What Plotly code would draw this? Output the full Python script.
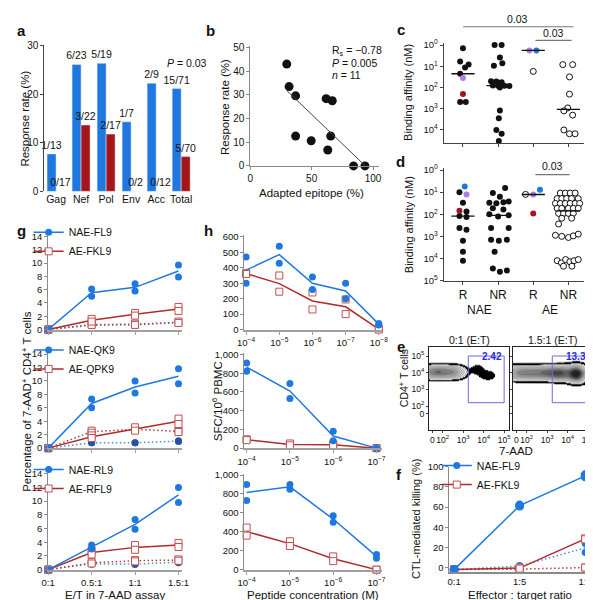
import numpy as np
import plotly.graph_objects as go

W, H = 593, 600
FONT = "Liberation Sans, Arial, sans-serif"
BLUE = "#1f78e0"
DBLUE = "#2850a8"
RED = "#a3171b"
LRED = "#b22a2a"
SQ = "#c05050"
PURPLE = "#b07ce8"
AXG = "#8a8a8a"
DOT = "1.5px,2.5px"

# ---------------- data ----------------
# a: response fractions
A_CATS = ["Gag", "Nef", "Pol", "Env", "Acc", "Total"]
A_NAE = ["1/13", "6/23", "5/19", "1/7", "2/9", "15/71"]
A_AE = ["0/17", "3/22", "2/17", "0/2", "0/12", "5/70"]

# b: adapted epitope vs response rate
B_ADAPTED = [29.7, 31.6, 36.9, 36.9, 49.6, 61.8, 66.8, 65.5, 63.1, 84.1, 93.4]
B_RESPONSE = [43.0, 33.5, 29.6, 12.6, 10.6, 28.4, 27.5, 12.6, 6.7, 0.0, 0.0]

# c / d: binding affinity (log10 nM), within-group jitter, kind (k black, p purple, r red, b blue, o open)
C_LOG = [
    [0.15, 0.77, 0.92, 1.05, 1.35, 1.55, 2.3, 2.68, 2.68],
    [0, 0, 0.58, 0.85, 0.97, 1.7, 1.72, 1.75, 1.9, 1.92, 1.92, 1.93, 2.0, 3.08, 3.45, 4.0, 4.18, 4.52],
    [0.25, 0.25, 1.24],
    [0.92, 0.92, 1.5, 2.31, 2.96, 3.1, 3.3, 4.0, 4.18, 4.18],
]
C_OFF = [
    [0, -0.08, 0.16, 0.06, -0.08, 0, 0, -0.08, 0.08],
    [-0.1, 0.1, 0.05, 0.12, -0.12, -0.2, -0.05, 0.1, -0.15, 0.0, 0.18, 0.32, 0.05, 0.05, 0.02, -0.05, 0.1, 0.02],
    [-0.11, 0.09, 0.0],
    [-0.16, 0.12, 0.03, 0.03, -0.02, -0.13, 0.12, -0.13, 0.03, 0.19],
]
C_KIND = ["kkkkkprkk", "k" * 18, "pbo", "o" * 10]

D_LOG = [
    [0.74, 1.0, 1.1, 1.48, 1.84, 1.88, 2.08, 2.12, 2.62, 2.7, 3.2, 3.7, 4.1],
    [0.81, 1.04, 1.21, 1.42, 1.46, 1.48, 1.5, 1.73, 1.78, 2.0, 2.05, 2.1, 2.62, 2.62, 3.15, 3.15, 3.2, 3.7, 4.45, 4.55, 4.6],
    [1.1, 1.11, 0.89, 1.96],
    [1.04, 1.04, 1.04, 1.04, 1.29, 1.29, 1.29, 1.29, 1.29, 1.51, 1.51, 1.51, 1.51, 1.51, 1.51,
     1.73, 1.73, 1.73, 1.73, 1.73, 1.96, 1.96, 1.96, 1.96, 2.18, 2.18, 2.44,
     2.95, 3.0, 3.05, 2.98, 2.9, 4.1, 4.2, 4.05, 4.15, 4.1, 4.05, 4.35, 4.35],
]
D_OFF = [
    [0.05, -0.1, 0.1, 0.0, -0.1, 0.1, -0.1, 0.1, -0.1, 0.1, 0.0, 0.0, 0.0],
    [0.2, -0.15, 0.05, 0.3, 0.15, -0.25, -0.05, -0.15, 0.15, -0.25, 0.3, 0.0, -0.2, 0.3, -0.2, 0.25, 0.02, -0.1, -0.15, 0.25, 0.05],
    [-0.22, 0.0, 0.19, 0.0],
    [-0.23, -0.09, 0.05, 0.19, -0.32, -0.19, -0.05, 0.09, 0.28, -0.37, -0.23, -0.09, 0.05, 0.19, 0.32,
     -0.32, -0.19, 0.0, 0.14, 0.28, -0.28, -0.14, 0.0, 0.14, -0.19, 0.09, -0.28,
     -0.37, -0.19, 0.0, 0.14, 0.28, -0.32, -0.2, -0.08, 0.04, 0.16, 0.28, -0.14, 0.1],
]
D_KIND = ["bkpkrkkkkkkkk", "k" * 21, "opbr", "o" * 40]
D_TICKS = ["R", "NR", "R", "NR"]

# e: flow density blobs (cx, cy, sx, sy, weight) in biexponential decades
E_LEFT_BLOBS = [
    (1.3, 4.05, 0.35, 0.25, 0.45), (1.8, 4.05, 0.35, 0.25, 0.45),
    (2.3, 4.05, 0.35, 0.25, 0.42), (2.75, 4.05, 0.3, 0.24, 0.35),
    (3.7, 4.22, 0.22, 0.22, 0.12), (4.2, 3.85, 0.3, 0.22, 0.12),
]
E_RIGHT_BLOBS = [
    (1.3, 4.0, 0.35, 0.27, 0.45), (1.9, 4.0, 0.35, 0.27, 0.5),
    (2.5, 4.0, 0.35, 0.27, 0.5), (3.1, 4.0, 0.35, 0.27, 0.55),
    (3.7, 3.98, 0.35, 0.28, 0.7), (4.45, 3.95, 0.3, 0.32, 1.0),
]
E_GATE = [3.25, 5.0, 2.2, 5.0]
E_PCT = ["2.42", "13.3"]
E_TITLES = ["0:1 (E:T)", "1.5:1 (E:T)"]

# f: CTL-mediated killing
F_RATIOS = ["0:1", "1:5", "1:1"]
F_NAE = [[-2, -2], [62, 61], [92, 90]]
F_NAE_CTRL = [[-2, -2], [2, 1], [24, 15]]
F_AE = [[-2, -2], [0, -1], [29, 28]]
F_AE_CTRL = [[-2, -2], [-1, -2], [0, 0]]

# g: 7-AAD assay
G_ET = [0, 0.5, 1.0, 1.5]
G_ET_LABELS = ["0:1", "0.5:1", "1:1", "1.5:1"]
G_NAMES = [("NAE-FL9", "AE-FKL9"), ("NAE-QK9", "AE-QPK9"), ("NAE-RL9", "AE-RFL9")]
G_NAE = [
    [[0, 0], [6.1, 5.0], [6.9, 5.8], [9.7, 7.9]],
    [[0, 0], [7.3, 6.0], [10.0, 8.2], [11.8, 9.6]],
    [[0, 0], [3.6, 3.0], [7.3, 5.9], [12.0, 9.8]],
]
G_AE = [
    [[0, 0], [1.6, 1.2], [2.5, 2.1], [3.4, 2.8]],
    [[0, 0], [1.9, 1.5], [3.1, 2.6], [4.4, 3.6]],
    [[0, 0], [2.8, 2.2], [3.6, 2.9], [3.9, 3.3]],
]
G_NAE_CTRL = [
    [[0, 0], [0.7, 0.6], [0.8, 0.6], [1.1, 1.0]],
    [[0, 0], [0.8, 0.8], [0.8, 0.8], [1.1, 1.0]],
    [[0, 0], [0.9, 0.8], [0.8, 0.8], [1.2, 1.0]],
]
G_AE_CTRL = [
    [[0, 0], [0.8, 0.7], [0.9, 0.7], [1.2, 1.0]],
    [[0, 0], [2.6, 2.3], [2.9, 2.7], [2.6, 2.4]],
    [[0, 0], [1.1, 0.9], [1.4, 1.2], [1.5, 1.3]],
]

# h: ELISpot titrations
H_CONC = [["10<sup>−4</sup>", "10<sup>−5</sup>", "10<sup>−6</sup>", "10<sup>−7</sup>", "10<sup>−8</sup>"],
          ["10<sup>−4</sup>", "10<sup>−5</sup>", "10<sup>−6</sup>", "10<sup>−7</sup>"],
          ["10<sup>−4</sup>", "10<sup>−5</sup>", "10<sup>−6</sup>", "10<sup>−7</sup>"]]
H_NAE = [
    [[470, 300], [540, 430], [340, 260], [300, 200], [40, 30]],
    [[910, 820], [690, 530], [180, 80], [0, 0]],
    [[900, 730], [900, 850], [570, 500], [160, 120]],
]
H_AE = [
    [[365, 360], [350, 245], [240, 130], [195, 100], [5, 0]],
    [[95, 85], [50, 30], [40, 30], [0, 0]],
    [[445, 360], [300, 250], [140, 90], [0, 0]],
]
H_YMAX = [600, 1000, 1000]
H_YSTEP = [100, 200, 200]

# ---------------- helpers ----------------
fig = go.Figure()
layout = {}


def px_x(a, b):
    return [a / W, b / W]


def px_y(top, bot):
    return [1 - bot / H, 1 - top / H]


def add_axes(n, xd, yd, xkw, ykw):
    sx = "" if n == 1 else str(n)
    base = dict(showgrid=False, zeroline=False, showline=True, ticks="outside", ticklen=3,
                linecolor="#444", tickcolor="#444", tickangle=0,
                tickfont=dict(size=10, family=FONT, color="#111"))
    xk = dict(base)
    xk.update(domain=px_x(*xd), anchor="y" + sx)
    xk.update(xkw)
    yk = dict(base)
    yk.update(domain=px_y(*yd), anchor="x" + sx)
    yk.update(ykw)
    layout["xaxis" + sx] = xk
    layout["yaxis" + sx] = yk
    return "x" + sx, "y" + sx


annotations = []
shapes = []


def text(x, y, s, size=11.5, angle=0, xanchor="center", yanchor="middle", color="#111", bold=False):
    if bold:
        s = "<b>" + s + "</b>"
    annotations.append(dict(x=x / W, y=1 - y / H, xref="paper", yref="paper", text=s, showarrow=False,
                            textangle=angle, xanchor=xanchor, yanchor=yanchor,
                            font=dict(size=size, family=FONT, color=color)))


def sup(p):
    return "10<sup>%d</sup>" % p


TF = dict(size=9.5, family=FONT, color="#111")

# ---------------- panel a ----------------
xa, ya = add_axes(1, (30, 183), (32, 181),
                  dict(range=[-0.47, 5.5], tickvals=list(range(6)), ticktext=A_CATS, showline=False,
                       ticks="", tickfont=dict(size=10.5, family=FONT, color="#111")),
                  dict(range=[0, 30], tickvals=[0, 10, 20, 30]))
vals_nae = [int(s.split("/")[0]) / int(s.split("/")[1]) * 100 for s in A_NAE]
vals_ae = [int(s.split("/")[0]) / int(s.split("/")[1]) * 100 for s in A_AE]
fig.add_trace(go.Bar(x=list(range(6)), y=vals_nae, width=0.36, offset=-0.36, marker_color=BLUE,
                     text=A_NAE, textposition="outside", constraintext="none", cliponaxis=False,
                     textfont=dict(size=10.5, family=FONT, color="#111"), showlegend=False,
                     xaxis=xa, yaxis=ya))
fig.add_trace(go.Bar(x=list(range(6)), y=vals_ae, width=0.36, offset=0.0, marker_color=RED,
                     text=A_AE, textposition="outside", constraintext="none", cliponaxis=False,
                     textfont=dict(size=10.5, family=FONT, color="#111"), showlegend=False,
                     xaxis=xa, yaxis=ya))
text(176, 50, "<i>P</i> = 0.03", size=10.5)
text(10, 107, "Response rate (%)", angle=-90)

# ---------------- panel b ----------------
xb, yb = add_axes(2, (241, 373), (33, 155),
                  dict(range=[0, 105], tickvals=[0, 50, 100], linecolor=AXG, tickcolor=AXG),
                  dict(range=[0, 50.5], tickvals=[0, 10, 20, 30, 40, 50], linecolor=AXG, tickcolor=AXG))
fig.add_trace(go.Scatter(x=B_ADAPTED, y=B_RESPONSE, mode="markers", cliponaxis=False,
                         marker=dict(size=9, color="#111"), showlegend=False, xaxis=xb, yaxis=yb))
k, c0 = np.polyfit(B_ADAPTED, B_RESPONSE, 1)
fx = np.array([min(B_ADAPTED), max(B_ADAPTED)])
fig.add_trace(go.Scatter(x=fx, y=k * fx + c0, mode="lines", line=dict(color="#444", width=1),
                         showlegend=False, xaxis=xb, yaxis=yb))
text(323, 38, "R<sub>s</sub> = −0.78", size=10.5, xanchor="left")
text(323, 50, "<i>P</i> = 0.005", size=10.5, xanchor="left")
text(323, 62, "<i>n</i> = 11", size=10.5, xanchor="left")
text(215, 95, "Response rate (%)", angle=-90)
text(304, 183, "Adapted epitope (%)")

# ---------------- panels c, d ----------------
KIND_STYLE = {
    "k": dict(color="#111", size=6),
    "p": dict(color=PURPLE, size=6),
    "r": dict(color=RED, size=6),
    "b": dict(color=BLUE, size=6),
    "o": dict(color="white", size=6, line=dict(color="#111", width=1)),
}


def swarm(logs, offs, kinds, xr, yr):
    for kind in "okprb":
        xs, ys = [], []
        for gi in range(4):
            for v, o, kd in zip(logs[gi], offs[gi], kinds[gi]):
                if kd == kind:
                    xs.append(gi + o)
                    ys.append(10 ** v)
        if xs:
            fig.add_trace(go.Scatter(x=xs, y=ys, mode="markers", marker=KIND_STYLE[kind], cliponaxis=False,
                                     showlegend=False, xaxis=xr, yaxis=yr))
    for gi in range(4):
        med = 10 ** float(np.median(logs[gi]))
        fig.add_trace(go.Scatter(x=[gi - 0.33, gi + 0.33], y=[med, med], mode="lines",
                                 line=dict(color="#111", width=1.3), showlegend=False, xaxis=xr, yaxis=yr))


xc, yc = add_axes(3, (439, 583), (30, 132),
                  dict(range=[-0.55, 3.45], tickvals=[0, 1, 2, 3], ticktext=["", "", "", ""]),
                  dict(type="log", range=[4.63, -0.08], tickvals=[1, 10, 100, 1000, 10000],
                       ticktext=[sup(p) for p in range(5)], tickfont=TF))
swarm(C_LOG, C_OFF, C_KIND, xc, yc)
xd, yd = add_axes(4, (439, 583), (157, 272),
                  dict(range=[-0.55, 3.45], tickvals=[0, 1, 2, 3], ticktext=D_TICKS,
                       tickfont=dict(size=12, family=FONT, color="#111")),
                  dict(type="log", range=[5, -0.1], tickvals=[1, 10, 100, 1000, 10000, 100000],
                       ticktext=[sup(p) for p in range(6)], tickfont=TF))
swarm(D_LOG, D_OFF, D_KIND, xd, yd)
text(403, 80, "Binding affinity (nM)", angle=-90, size=11)
text(403, 215, "Binding affinity (nM)", angle=-90, size=11)
text(476, 302, "NAE", size=12)
text(548, 302, "AE", size=12)
for (x0, x1, yl, ytxt, xt) in [(459, 572, 13, 5, 515), (533, 570, 27, 19, 552), (533, 568, 164, 155, 551)]:
    shapes.append(dict(type="line", xref="paper", yref="paper", x0=x0 / W, x1=x1 / W, y0=1 - yl / H,
                       y1=1 - yl / H, line=dict(color="#777", width=1.2)))
    text(xt, ytxt, "0.03", size=10.5)

# ---------------- panel e ----------------
gx = np.linspace(1.33, 5.24, 160)
gy = np.linspace(0.59, 5.53, 160)
GX, GY = np.meshgrid(gx, gy)


def density(blobs):
    z = np.zeros_like(GX)
    for cx, cy, sx_, sy_, w in blobs:
        z += w * np.exp(-((GX - cx) ** 2 / (2 * sx_ ** 2) + (GY - cy) ** 2 / (2 * sy_ ** 2)))
    return z


E_SCALE = [[0, "#ffffff"], [0.06, "#ffffff"], [0.062, "#000000"], [0.13, "#000000"],
           [0.135, "#f0f0f0"], [0.5, "#c8c8c8"], [1, "#222222"]]
for i, (blobs, xdom) in enumerate([(E_LEFT_BLOBS, (424, 506)), (E_RIGHT_BLOBS, (510, 592))]):
    ykw = dict(range=[0.59, 5.53], tickvals=[1.53, 2, 3, 4, 5], ticktext=["0", sup(2), sup(3), sup(4), sup(5)],
               tickfont=dict(size=8.5, family=FONT, color="#111"), mirror=True, linecolor="#222", ticklen=2,
               showticklabels=(i == 0))
    xkw = dict(range=[1.33, 5.24], tickvals=[1.5, 2, 3, 4, 5], ticktext=["0", sup(2), sup(3), sup(4), sup(5)],
               tickfont=dict(size=8.5, family=FONT, color="#111"), mirror=True, linecolor="#222", ticklen=2)
    xe, ye = add_axes(5 + i, xdom, (340, 424), xkw, ykw)
    fig.add_trace(go.Contour(x=gx, y=gy, z=density(blobs), zmin=0, zmax=1, colorscale=E_SCALE,
                             showscale=False, contours=dict(start=0.06, end=1.0, size=0.1, coloring="heatmap"),
                             line=dict(color="rgba(0,0,0,0.4)", width=0.6), hoverinfo="skip",
                             xaxis=xe, yaxis=ye))
    shapes.append(dict(type="rect", xref=xe, yref=ye, x0=E_GATE[0], x1=E_GATE[1], y0=E_GATE[2], y1=E_GATE[3],
                       line=dict(color="#6a6ae6", width=1)))
    annotations.append(dict(x=E_GATE[1], y=E_GATE[3], xref=xe, yref=ye, text="<b>" + E_PCT[i] + "</b>",
                            showarrow=False, xanchor="right", yanchor="middle",
                            font=dict(size=10, family=FONT, color="#2a2ae0")))
    text((xdom[0] + xdom[1]) / 2, 333, E_TITLES[i], size=10.5)
text(398, 372, "CD4<sup>+</sup> T cells", angle=-90, size=10.5)
text(513, 446, "7-AAD", size=11.5)

# ---------------- panel f ----------------
xf, yf = add_axes(7, (445, 588), (462, 569),
                  dict(range=[-0.07, 2.06], tickvals=[0, 1, 2], ticktext=F_RATIOS, linecolor=AXG, tickcolor=AXG,
                       linewidth=1.5, ticks="", tickfont=TF),
                  dict(range=[-4, 100], tickvals=[0, 20, 40, 60, 80, 100], linecolor=AXG, tickcolor=AXG,
                       tickfont=TF))


def series(xvals, reps, xr, yr, color, symbol, mcolor, dash, lw=1.5, msize=7, open_=False):
    xs = [x for x, r in zip(xvals, reps) for _ in r]
    ys = [v for r in reps for v in r]
    means = [float(np.mean(r)) for r in reps]
    fig.add_trace(go.Scatter(x=xvals, y=means, mode="lines", line=dict(color=color, width=lw, dash=dash),
                             showlegend=False, xaxis=xr, yaxis=yr))
    if open_:
        mk = dict(symbol=symbol, size=msize, color="white", line=dict(color=mcolor, width=1))
    else:
        mk = dict(symbol=symbol, size=msize, color=mcolor)
    fig.add_trace(go.Scatter(x=xs, y=ys, mode="markers", marker=mk, cliponaxis=False,
                             showlegend=False, xaxis=xr, yaxis=yr))


def legend_items(names, xr, yr, leg):
    fig.add_trace(go.Scatter(x=[None], y=[None], mode="lines+markers", name=names[0], legend=leg,
                             line=dict(color=BLUE, width=1.5), marker=dict(size=7, color=BLUE),
                             xaxis=xr, yaxis=yr))
    fig.add_trace(go.Scatter(x=[None], y=[None], mode="lines+markers", name=names[1], legend=leg,
                             line=dict(color=LRED, width=1.5),
                             marker=dict(symbol="square", size=7, color="white", line=dict(color=SQ, width=1)),
                             xaxis=xr, yaxis=yr))


fx_ = [0, 1, 2]
series(fx_, F_NAE_CTRL, xf, yf, "#4a8fe0", "circle", BLUE, DOT, lw=1.5)
series(fx_, F_AE_CTRL, xf, yf, "#b04040", "square", SQ, DOT, lw=1.5, open_=True)
series(fx_, F_AE, xf, yf, LRED, "square", SQ, "solid", open_=True)
series(fx_, F_NAE, xf, yf, BLUE, "circle", BLUE, "solid", msize=9)
legend_items(("NAE-FL9", "AE-FKL9"), xf, yf, "legend4")
text(410, 515, "CTL-mediated killing (%)", angle=-90, size=11)
text(517, 593, "Effector : target ratio", size=11.5)

# ---------------- panel g ----------------
G_DOMS = [(226, 322), (346, 443), (468, 567)]
for i in range(3):
    xg, yg = add_axes(8 + i, (34, 171), G_DOMS[i],
                      dict(range=[0, 1.54], tickvals=G_ET, ticktext=G_ET_LABELS, showticklabels=(i == 2),
                           linecolor="#a0a0a0", tickcolor="#a0a0a0", linewidth=2, tickfont=TF),
                      dict(range=[0, 14.15], tickvals=list(range(0, 15, 2)), linecolor=AXG, tickcolor=AXG,
                           tickfont=TF))
    series(G_ET, G_NAE_CTRL[i], xg, yg, "#4a8fe0", "circle", DBLUE, DOT, lw=1.5)
    series(G_ET, G_AE_CTRL[i], xg, yg, "#b04040", "square", SQ, DOT, lw=1.5, open_=True)
    series(G_ET, G_AE[i], xg, yg, LRED, "square", SQ, "solid", open_=True)
    series(G_ET, G_NAE[i], xg, yg, BLUE, "circle", BLUE, "solid")
    legend_items(G_NAMES[i], xg, yg, "legend" if i == 0 else "legend%d" % (i + 1))
text(12, 395, "Percentage of 7-AAD<sup>+</sup> CD4<sup>+</sup> T cells", angle=-90, size=11.5)
text(102, 593, "E/T in 7-AAD assay", size=11.5)

# ---------------- panel h ----------------
H_DOMS = [(226, 322), (346, 443), (469, 567)]
for i in range(3):
    n = len(H_CONC[i])
    ymax = H_YMAX[i]
    tv = list(range(0, ymax + 1, H_YSTEP[i]))
    xh, yh = add_axes(11 + i, (235, 376), H_DOMS[i],
                      dict(range=[-0.05, n - 1 + (0.1 if n == 5 else 0.13)], tickvals=list(range(n)),
                           ticktext=H_CONC[i], linecolor="#a0a0a0", tickcolor="#a0a0a0", linewidth=2,
                           tickfont=TF),
                      dict(range=[0, ymax * 1.015], tickvals=tv, ticktext=[f"{v:,}" for v in tv],
                           linecolor=AXG, tickcolor=AXG, tickfont=TF))
    xs = list(range(n))
    series(xs, H_AE[i], xh, yh, LRED, "square", SQ, "solid", open_=True)
    series(xs, H_NAE[i], xh, yh, BLUE, "circle", BLUE, "solid")
text(207, 395, "SFC/10<sup>6</sup> PBMC", angle=-90, size=11.5)
text(305, 593, "Peptide concentration (M)", size=11.5)

# ---------------- panel letters ----------------
for ch, x, y in [("a", 7, 17), ("b", 200, 17), ("c", 395, 16), ("d", 395, 150), ("e", 395, 339),
                 ("f", 393, 470), ("g", 7, 221), ("h", 198, 221)]:
    text(x, y, ch, size=15, bold=True)

LEG = dict(xanchor="left", yanchor="top", bgcolor="rgba(0,0,0,0)", borderwidth=0,
           font=dict(size=10.5, family=FONT, color="#111"), itemwidth=30, tracegroupgap=0)
legends = {}
for key, (lx, ly) in {"legend": (14, 208), "legend2": (14, 328), "legend3": (14, 450),
                      "legend4": (432, 446)}.items():
    d_ = dict(LEG)
    d_.update(x=lx / W, y=1 - ly / H)
    legends[key] = d_

layout.update(legends)
layout.update(dict(width=W, height=H, margin=dict(l=0, r=0, t=0, b=0), paper_bgcolor="white",
                   plot_bgcolor="white", showlegend=True, annotations=annotations, shapes=shapes,
                   font=dict(family=FONT, size=11, color="#111")))
fig.update_layout(**layout)
fig.write_html("out.html")
